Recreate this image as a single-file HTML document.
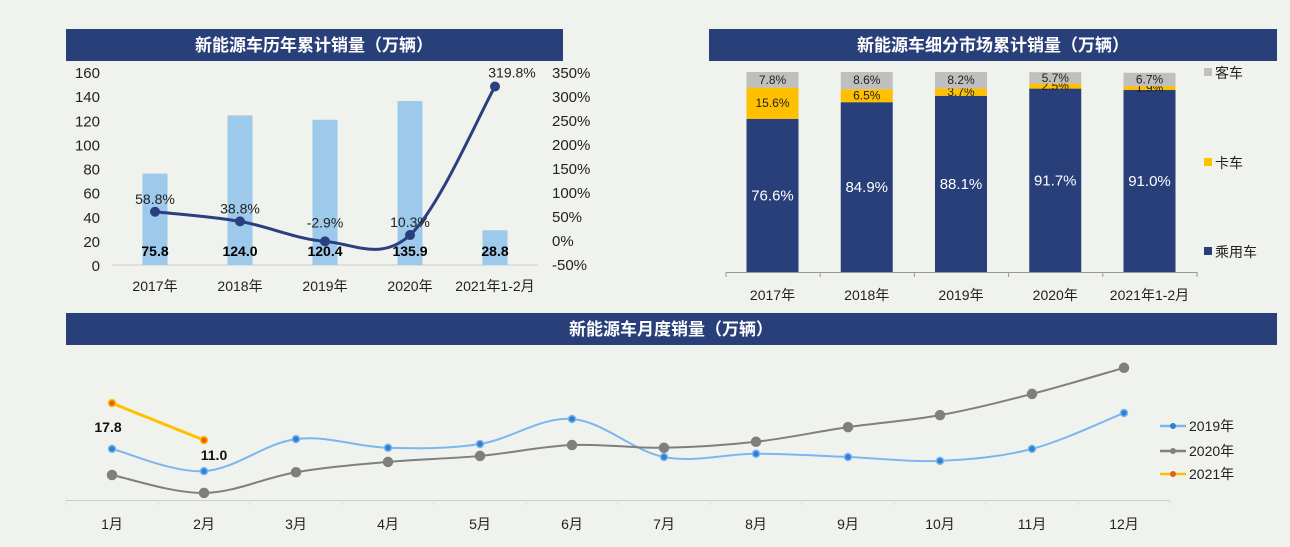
<!DOCTYPE html>
<html><head><meta charset="utf-8">
<style>
html,body{margin:0;padding:0;background:#f0f2ee;}
svg{display:block;font-family:"Liberation Sans","Noto Sans CJK SC",sans-serif;}
</style></head>
<body>
<svg id="s" width="1290" height="547" viewBox="0 0 1290 547" xmlns="http://www.w3.org/2000/svg">
<rect width="1290" height="547" fill="#f0f2ee"/>
<rect x="66" y="29" width="497" height="32" fill="#283f7a"/>
<text x="314" y="51" text-anchor="middle" fill="#fff" font-size="17" font-weight="bold">新能源车历年累计销量（万辆）</text>
<rect x="709" y="29" width="568" height="32" fill="#283f7a"/>
<text x="993" y="51" text-anchor="middle" fill="#fff" font-size="17" font-weight="bold">新能源车细分市场累计销量（万辆）</text>
<rect x="66" y="313" width="1211" height="32" fill="#283f7a"/>
<text x="671" y="335" text-anchor="middle" fill="#fff" font-size="17" font-weight="bold">新能源车月度销量（万辆）</text>
<g id="c1"></g><g id="c2"></g><g id="c3"></g>
</svg>
<script>
const NS="http://www.w3.org/2000/svg";
function mk(p,t,a,txt){const e=document.createElementNS(NS,t);for(const k in a)e.setAttribute(k,a[k]);if(txt!==undefined)e.textContent=txt;p.appendChild(e);return e;}
function smooth(pts){let d="M"+pts[0][0]+","+pts[0][1];for(let i=0;i<pts.length-1;i++){const p0=pts[i-1]||pts[i],p1=pts[i],p2=pts[i+1],p3=pts[i+2]||p2;const t=0.17;const c1=[p1[0]+(p2[0]-p0[0])*t,p1[1]+(p2[1]-p0[1])*t],c2=[p2[0]-(p3[0]-p1[0])*t,p2[1]-(p3[1]-p1[1])*t];d+=" C"+c1[0]+","+c1[1]+" "+c2[0]+","+c2[1]+" "+p2[0]+","+p2[1];}return d;}

// Chart 1 data
const c1Cats=["2017年","2018年","2019年","2020年","2021年1-2月"];
const c1Sales=[75.8,124.0,120.4,135.9,28.8];
const c1Growth=[58.8,38.8,-2.9,10.3,319.8];
const c1LeftTicks=[0,20,40,60,80,100,120,140,160];
const c1RightTicks=[-50,0,50,100,150,200,250,300,350];
// Chart 2 data
const c2Cats=["2017年","2018年","2019年","2020年","2021年1-2月"];
const c2Car=[76.6,84.9,88.1,91.7,91.0];
const c2Truck=[15.6,6.5,3.7,2.5,1.9];
const c2Bus=[7.8,8.6,8.2,5.7,6.7];
// Chart 3 data
const c3Months=["1月","2月","3月","4月","5月","6月","7月","8月","9月","10月","11月","12月"];
const s2019=[9.4,5.3,11.2,9.6,10.3,14.9,7.9,8.5,7.9,7.2,9.4,16.0];
const s2020=[4.6,1.3,5.1,7.0,8.1,10.1,9.6,10.7,13.4,15.6,19.5,24.3];
const s2021=[17.8,11.0];

// ---- Chart 1
(function(){
const g=document.getElementById("c1");
const x=i=>155+i*85, yL=v=>265-v*193/160, yR=v=>240-v*192/400;
c1LeftTicks.forEach(t=>{const e=mk(g,"text",{x:100,y:yL(t)+6,"text-anchor":"end","font-size":"15",fill:"#222"},t);
});
c1RightTicks.forEach(t=>{const e=mk(g,"text",{x:552,y:yR(t)+6,"font-size":"15",fill:"#222"},t+"%");
});
const ax=mk(g,"line",{x1:112,x2:538,y1:265,y2:265,stroke:"#ccc"});

c1Sales.forEach((v,i)=>{const r=mk(g,"rect",{x:x(i)-12.5,y:yL(v),width:25,height:265-yL(v),fill:"#9dc9ea"});

const t=mk(g,"text",{x:x(i),y:256,"text-anchor":"middle","font-size":"14","font-weight":"bold",fill:"#000"},v.toFixed(1));

const c=mk(g,"text",{x:x(i),y:291,"text-anchor":"middle","font-size":"14",fill:"#222"},c1Cats[i]);
});
const pts=c1Growth.map((v,i)=>[x(i),yR(v)]);
const l=mk(g,"path",{d:smooth(pts),fill:"none",stroke:"#2a3f7f","stroke-width":"3"});

pts.forEach((p,i)=>{const c=mk(g,"circle",{cx:p[0],cy:p[1],r:5,fill:"#2a3f7f"});

const t=mk(g,"text",{x:i==4?p[0]+17:p[0],y:i==4?p[1]-9:p[1]-8-(i==2?6:0),"text-anchor":"middle","font-size":"14",fill:"#222"},c1Growth[i].toFixed(1)+"%");
});
})();

// ---- Chart 2
(function(){
const g=document.getElementById("c2");
const x=i=>772.5+i*94.25, bot=272, h=v=>v*200/100;
const ax=mk(g,"line",{x1:726,x2:1197,y1:272.5,y2:272.5,stroke:"#999"});

for(let i=0;i<=5;i++){const tk=mk(g,"line",{x1:726+i*94.2,x2:726+i*94.2,y1:272,y2:277,stroke:"#999"});
}
c2Cats.forEach((c,i)=>{
 let y=bot;
 const segs=[[c2Car[i],"#283f7a","car-segment","#fff",15],[c2Truck[i],"#ffc000","truck-segment","#222",12],[c2Bus[i],"#bfbfbf","bus-segment","#222",12]];
 segs.forEach((s,k)=>{const hh=h(s[0]);y-=hh;
  const r=mk(g,"rect",{x:x(i)-26,y:y,width:52,height:hh,fill:s[1]});
  
  let ty=y+hh/2+(k==0?5:4); if(k==2) ty=Math.min(ty,y+12);
  const t=mk(g,"text",{x:x(i),y:ty,"text-anchor":"middle","font-size":s[4],fill:s[3]},s[0].toFixed(1)+"%");
  });
 const l=mk(g,"text",{x:x(i),y:300,"text-anchor":"middle","font-size":"14",fill:"#222"},c);
 
});
[["客车","#bfbfbf",72],["卡车","#ffc000",162],["乘用车","#283f7a",251]].forEach(L=>{
 const r=mk(g,"rect",{x:1204,y:L[2]-4,width:8,height:8,fill:L[1]});
 
 const t=mk(g,"text",{x:1215,y:L[2]+6,"font-size":"14",fill:"#222"},L[0]);
 });
})();

// ---- Chart 3
(function(){
const g=document.getElementById("c3");
const x=i=>112+i*92, y=v=>500-v*5.44;
const ax=mk(g,"line",{x1:66,x2:1170,y1:500.5,y2:500.5,stroke:"#ccc"});

for(let i=0;i<=12;i++){const tk=mk(g,"line",{x1:66+i*92,x2:66+i*92,y1:500,y2:505,stroke:"#ddd"});
}
c3Months.forEach((m,i)=>{const t=mk(g,"text",{x:x(i),y:529,"text-anchor":"middle","font-size":"14",fill:"#222"},m);
});
const series=[[s2019,"#7db6ef","#2d7fd0","series-2019",true],[s2020,"#7f7f7f","#7f7f7f","series-2020",true],[s2021,"#ffc000","#e06020","series-2021",false]];
series.forEach(S=>{const pts=S[0].map((v,i)=>[x(i),y(v)]);
 const p=mk(g,"path",{d:S[4]?smooth(pts):("M"+pts.map(q=>q.join(",")).join(" L")),fill:"none",stroke:S[1],"stroke-width":S[3]=="series-2021"?3:2});
 
 pts.forEach(q=>{const c=mk(g,"circle",{cx:q[0],cy:q[1],r:S[3]=="series-2020"?4.5:3.5,fill:S[2],stroke:S[1],"stroke-width":1.5});
  });
});
s2021.forEach((v,i)=>{const t=mk(g,"text",{x:i==0?x(i)-4:x(i)+10,y:i==0?y(v)+29:y(v)+20,"text-anchor":"middle","font-size":"14","font-weight":"bold",fill:"#111"},v.toFixed(1));
});
[["2019年","#7db6ef","#2d7fd0",426],["2020年","#7f7f7f","#7f7f7f",451],["2021年","#ffc000","#e06020",474]].forEach(L=>{
 const l=mk(g,"line",{x1:1160,x2:1186,y1:L[3],y2:L[3],stroke:L[1],"stroke-width":2.5});
 
 const c=mk(g,"circle",{cx:1173,cy:L[3],r:3,fill:L[2]});
 
 const t=mk(g,"text",{x:1189,y:L[3]+5,"font-size":"14",fill:"#222"},L[0]);
 });
})();
</script>
</body></html>
